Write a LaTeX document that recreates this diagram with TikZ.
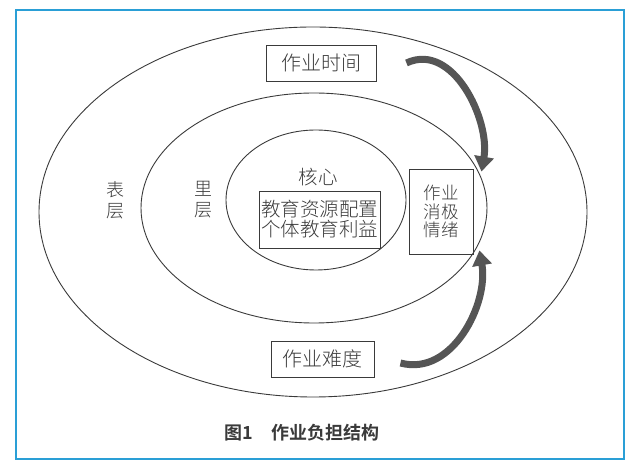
\documentclass[tikz,border=0pt]{standalone}
\usepackage{fontspec}
\newfontfamily\cjk[UprightFont={* Light},BoldFont={* Bold}]{Noto Sans CJK SC}
\usetikzlibrary{arrows.meta}
\definecolor{framecol}{HTML}{2A9FD6}
\definecolor{inkgray}{HTML}{3A3A3A}
\definecolor{arrowgray}{HTML}{555555}
\tikzset{
  ring/.style={draw=inkgray, line width=0.9pt},
  box/.style={draw=inkgray, line width=0.9pt, inner sep=1pt, align=center},
  layer/.style={align=center, font=\cjk\fontsize{18}{21}\selectfont},
  flow/.style={draw=arrowgray, line width=7pt,
    -{Triangle[width=19pt,length=15pt]}},
}
\begin{document}
\begin{tikzpicture}[x=1pt,y=1pt,font=\cjk\fontsize{19.5}{20}\selectfont,text=inkgray]
  \useasboundingbox (0,0) rectangle (640,468);
  \draw[framecol, line width=2pt] (16,458) rectangle (624,9);

  % Layers
  \draw[ring] (313,256) ellipse [x radius=274, y radius=185];
  \draw[ring] (314,260) ellipse [x radius=173, y radius=115];
  \draw[ring] (316,268) ellipse [x radius=90, y radius=70];

  % Define nodes
  \node[layer]                                     (surface) at (115,268) {表\\层};
  \node[layer]                                     (inner)   at (203,268) {里\\层};
  \node                                            (core)    at (318,291) {核心};
  \node[box, minimum width=121, minimum height=57] (res)     at (319.5,248.5) {教育资源配置\\个体教育利益};
  \node[box, minimum width=110, minimum height=36,
        font=\cjk\fontsize{20}{22}\selectfont]     (time)    at (321,405) {作业时间};
  \node[box, minimum width=103, minimum height=36,
        font=\cjk\fontsize{20}{22}\selectfont]     (diff)    at (322.5,109) {作业难度};
  \node[box, minimum width=64, minimum height=85,
        font=\cjk\fontsize{17.5}{18.5}\selectfont] (mood)    at (441,256.5) {作业\\消极\\情绪};

  % Connect the nodes
  \draw[flow] ([xshift=30pt]time.east) to[out=25, in=80] ([xshift=8pt,yshift=-3pt]mood.north east);
  \draw[flow] ([xshift=26pt,yshift=-4pt]diff.east) to[out=-15, in=-80] ([xshift=6pt,yshift=4pt]mood.south east);

  % Caption
  \node[font=\cjk\bfseries\fontsize{18}{20}\selectfont] (caption) at (302,35) {图1\quad 作业负担结构};
\end{tikzpicture}
\end{document}
